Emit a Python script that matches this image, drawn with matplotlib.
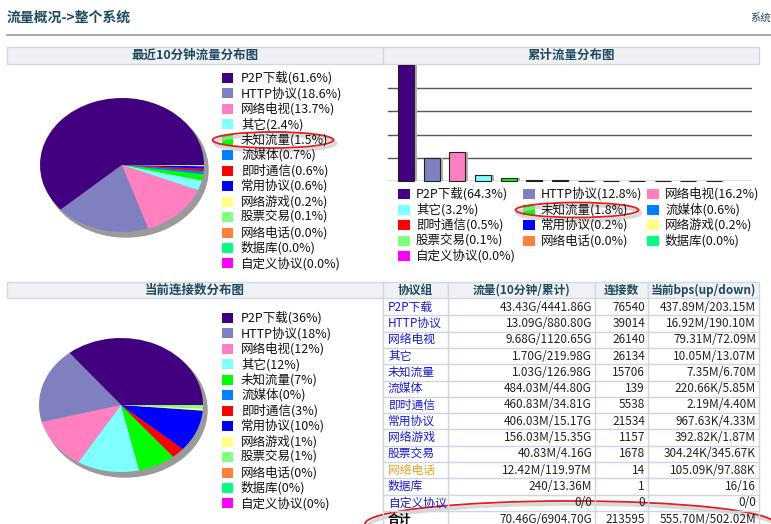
import matplotlib
matplotlib.use("Agg")
import matplotlib.pyplot as plt
from matplotlib.patches import Rectangle, Ellipse

plt.rcParams['font.family'] = ['Noto Sans CJK SC', 'DejaVu Sans']

# ---- data ----
protocols = ['P2P下载', 'HTTP协议', '网络电视', '其它', '未知流量', '流媒体', '即时通信',
             '常用协议', '网络游戏', '股票交易', '网络电话', '数据库', '自定义协议']
colors = ['#400080', '#8080c0', '#ff80c0', '#80ffff', '#00ff00', '#0080ff', '#ff0000',
          '#0000ff', '#ffff80', '#80ff80', '#ff8040', '#00ff80', '#ff00ff']
pct_10min = [61.6, 18.6, 13.7, 2.4, 1.5, 0.7, 0.6, 0.6, 0.2, 0.1, 0.0, 0.0, 0.0]
pct_total = [64.3, 12.8, 16.2, 3.2, 1.8, 0.6, 0.5, 0.2, 0.2, 0.1, 0.0, 0.0, 0.0]
conn_pct = [36, 18, 12, 12, 7, 0, 3, 10, 1, 1, 0, 0, 0]
conn_counts = [76540, 39014, 26140, 26134, 15706, 139, 5538, 21534, 1157, 1678, 14, 1, 0]
traffic = ['43.43G/4441.86G', '13.09G/880.80G', '9.68G/1120.65G', '1.70G/219.98G',
           '1.03G/126.98G', '484.03M/44.80G', '460.83M/34.81G', '406.03M/15.17G',
           '156.03M/15.35G', '40.83M/4.16G', '12.42M/119.97M', '240/13.36M', '0/0']
bps = ['437.89M/203.15M', '16.92M/190.10M', '79.31M/72.09M', '10.05M/13.07M',
       '7.35M/6.70M', '220.66K/5.85M', '2.19M/4.40M', '967.63K/4.33M',
       '392.82K/1.87M', '304.24K/345.67K', '105.09K/97.88K', '16/16', '0/0']
total_row = ['合计', '70.46G/6904.70G', '213595', '555.70M/502.02M']
table_header = ['协议组', '流量(10分钟/累计)', '连接数', '当前bps(up/down)']

W, H = 771, 524
fig = plt.figure(figsize=(W / 100, H / 100), dpi=100, facecolor='white')


def px_axes(x, y, w, h):
    return fig.add_axes([x / W, 1 - (y + h) / H, w / W, h / H])


# overlay in pixel coordinates for page furniture
ov = px_axes(0, 0, W, H)
ov.set_xlim(0, W)
ov.set_ylim(H, 0)
ov.axis('off')

head_col = '#1d4a5e'
ov.text(7, 18, '流量概况->整个系统', fontsize=10, fontweight='bold', color=head_col, va='center')
ov.text(750, 18, '系统', fontsize=7.5, color=head_col, va='center')
ov.plot([7, W], [35, 35], color='#999999', lw=1.2)


# header bars
def header(x, y, w, h, txt):
    ov.add_patch(Rectangle((x, y), w, h, facecolor='#eff1f4', edgecolor='#d2d8e2', lw=1))
    if txt:
        ov.text(x + w / 2, y + h / 2, txt, fontsize=9, fontweight='bold', color=head_col,
                ha='center', va='center')


header(7, 47, 376, 17, '最近10分钟流量分布图')
header(383, 47, 376, 17, '累计流量分布图')
header(7, 282, 376, 16, '当前连接数分布图')


# ---- pies ----
def draw_pie(cx, cy, values):
    rx, ry = 82, 67
    ax = px_axes(cx - rx - 6, cy - ry - 6, 2 * rx + 14, 2 * ry + 14)
    ax.add_patch(Ellipse((4 / rx, -5 / ry), 2, 2, color='#9a9a9a', zorder=0))
    ax.pie(values, colors=colors, startangle=0, counterclock=True,
           wedgeprops=dict(linewidth=0))
    ax.set_aspect('auto')
    ax.set_xlim(-(rx + 6) / rx, (rx + 8) / rx)
    ax.set_ylim(-(ry + 8) / ry, (ry + 6) / ry)
    ax.axis('off')


draw_pie(122, 165, pct_10min)
draw_pie(121, 405, conn_counts)


def pie_legend(y0, labels):
    for i, (lab, c) in enumerate(zip(labels, colors)):
        y = y0 + i * 15.45
        ov.add_patch(Rectangle((222, y - 5), 11, 10, facecolor=c, edgecolor='none'))
        ov.text(241, y, lab, fontsize=9, va='center', color='#111111')


pie_legend(78, [f'{p}({v:.1f}%)' for p, v in zip(protocols, pct_10min)])
pie_legend(318, [f'{p}({v}%)' for p, v in zip(protocols, conn_pct)])

# ---- bar chart ----
bx = px_axes(388, 65, 364, 116)
ymax = max(pct_total)
for k in range(5):
    bx.axhline(k * ymax / 5, color='#555555', lw=1, zorder=0)
xs = list(range(len(pct_total)))
bx.bar([x + 0.12 for x in xs], pct_total, width=0.62, color='#b0b0b0', zorder=1, clip_on=False)
bx.bar(xs, pct_total, width=0.62, color=colors, edgecolor='#222222', lw=0.8, zorder=2,
       clip_on=False)
bx.set_xlim(-0.70, 13.48)
bx.set_ylim(0, ymax)
bx.axis('off')

col_x = [398, 523, 647]
for i, (p, v, c) in enumerate(zip(protocols, pct_total, colors)):
    r, col = divmod(i, 3)
    y = 194 + r * 15.5
    ov.add_patch(Rectangle((col_x[col], y - 5), 12, 10, facecolor=c, edgecolor='none'))
    ov.text(col_x[col] + 18, y, f'{p}({v:.1f}%)', fontsize=9, va='center', color='#111111')

# ---- table ----
cols = [383, 448, 595, 648, 759]
line_c = '#cdd5e3'
for j, txt in enumerate(table_header):
    x0, x1 = cols[j], cols[j + 1]
    ov.add_patch(Rectangle((x0, 282), x1 - x0, 16, facecolor='#eff1f4', edgecolor='#d2d8e2', lw=1))
    ov.text((x0 + x1) / 2, 290, txt, fontsize=8.5, fontweight='bold', color=head_col,
            ha='center', va='center')

row_h = 16.3
rows = [[p, t, str(n), b] for p, t, n, b in zip(protocols, traffic, conn_counts, bps)]
rows.append(total_row)
for i, row in enumerate(rows):
    top = 299 + i * row_h
    yc = top + row_h / 2
    ov.plot([cols[0], cols[-1]], [top + row_h, top + row_h], color=line_c, lw=1)
    for x in cols:
        ov.plot([x, x], [top, top + row_h], color=line_c, lw=1)
    last = i == len(rows) - 1
    name_col = '#000000' if last else ('#f0a020' if row[0] == '网络电话' else '#1a1ad0')
    ov.text(cols[0] + 5, yc, row[0], fontsize=8.5, color=name_col, va='center',
            fontweight='bold' if last else 'normal')
    for j in range(1, 4):
        ov.text(cols[j + 1] - 3, yc, row[j], fontsize=8.5, color='#222222', ha='right',
                va='center')


# ---- red highlight ellipses ----
def mark(cx, cy, w, h):
    ov.add_patch(Ellipse((cx + 2, cy + 3), w, h, fill=False, edgecolor='#c8c8c8', lw=2.5, alpha=0.7))
    ov.add_patch(Ellipse((cx, cy), w, h, fill=False, edgecolor='#e02020', lw=1.3))


mark(273, 140, 121, 16)
mark(577, 210, 123, 15)
mark(570, 524, 410, 46)

fig.savefig('out.png', dpi=100, facecolor='white')
